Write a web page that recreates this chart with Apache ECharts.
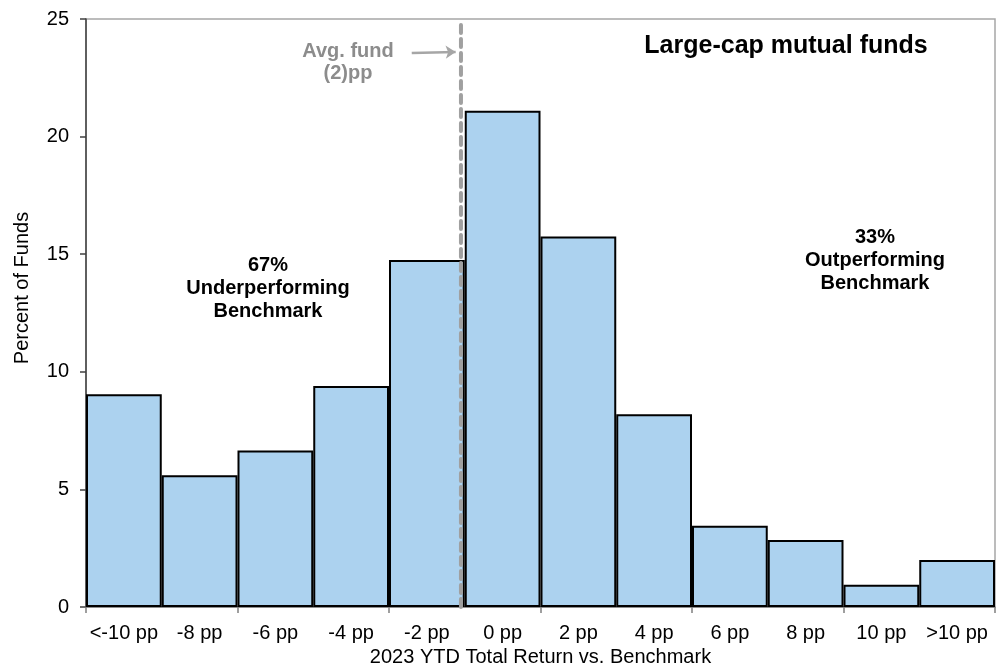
<!DOCTYPE html>
<html><head><meta charset="utf-8">
<script src="https://cdn.jsdelivr.net/npm/echarts@6/dist/echarts.min.js"></script>
<style>html,body{margin:0;padding:0;background:#fff}#c{width:997px;height:664px}</style>
</head><body><div id="c"></div>
<script>
const categories = ['<-10 pp','-8 pp','-6 pp','-4 pp','-2 pp','0 pp','2 pp','4 pp','6 pp','8 pp','10 pp','>10 pp'];
const percentOfFunds = [9.05, 5.6, 6.65, 9.4, 14.75, 21.1, 15.75, 8.2, 3.45, 2.85, 0.95, 2.0];
const avgFundPosition = 4.95; // in category-width units from left edge
const yTicks = [0, 5, 10, 15, 20, 25];

const F = '"Liberation Sans", Arial, sans-serif';
const chart = echarts.init(document.getElementById('c'));
chart.setOption({
  animation: false,
  textStyle: {fontFamily: F},
  grid: {left: 86, right: 2, top: 19, bottom: 57, show: true, borderColor: '#a6a6a6', borderWidth: 1.5,
         containLabel: false, outerBoundsMode: 'none'},
  xAxis: [{
    type: 'category', data: categories,
    axisLine: {lineStyle: {color: '#808080', width: 1.5}},
    axisTick: {show: true, interval: (i) => i % 2 === 0, length: 6, lineStyle: {color: '#808080', width: 1.5}},
    axisLabel: {color: '#000', fontSize: 20, margin: 16, interval: 0, fontFamily: F},
    name: '2023 YTD Total Return vs. Benchmark', nameLocation: 'middle', nameGap: 40,
    nameTextStyle: {color: '#000', fontSize: 20, fontFamily: F}
  }, {
    type: 'value', min: 0, max: 12, show: false
  }],
  yAxis: {
    type: 'value', min: 0, max: 25, interval: 5,
    axisLine: {show: true, lineStyle: {color: '#404040', width: 1.5}},
    axisTick: {show: true, length: 6, lineStyle: {color: '#404040', width: 1.5}},
    splitLine: {show: false},
    axisLabel: {color: '#000', fontSize: 20, margin: 17, fontFamily: F,
      formatter: v => yTicks.includes(v) ? String(v) : ''}
  },
  graphic: [
    {type: 'text', x: 22, y: 288, rotation: Math.PI / 2, style: {text: 'Percent of Funds', fill: '#000', font: '20px ' + F, textAlign: 'center', textVerticalAlign: 'middle'}},
    {type: 'text', x: 348, y: 62, style: {text: 'Avg. fund\n(2)pp', fill: '#8c8c8c', font: 'bold 20px ' + F, textAlign: 'center', textVerticalAlign: 'middle', lineHeight: 22}},
    {type: 'text', x: 786, y: 46, style: {text: 'Large-cap mutual funds', fill: '#000', font: 'bold 25px ' + F, textAlign: 'center', textVerticalAlign: 'middle'}},
    {type: 'text', x: 268, y: 288, style: {text: '67%\nUnderperforming\nBenchmark', fill: '#000', font: 'bold 20px ' + F, textAlign: 'center', textVerticalAlign: 'middle', lineHeight: 23}},
    {type: 'text', x: 875, y: 260, style: {text: '33%\nOutperforming\nBenchmark', fill: '#000', font: 'bold 20px ' + F, textAlign: 'center', textVerticalAlign: 'middle', lineHeight: 23}}
  ],
  series: [{
    type: 'bar', data: percentOfFunds, barCategoryGap: 0, barGap: 0,
    itemStyle: {color: '#acd2ef', borderColor: '#000', borderWidth: 2}
  }, {
    type: 'line', xAxisIndex: 1, yAxisIndex: 0,
    data: [[avgFundPosition, 0], [avgFundPosition, 25]],
    symbol: 'none', z: 5,
    lineStyle: {color: '#a0a0a0', width: 4, type: [8, 6], cap: 'round'},
    markLine: {
      silent: true, symbol: ['none', 'arrow'], symbolSize: 10,
      lineStyle: {color: '#a6a6a6', width: 2.5, type: 'solid'},
      label: {show: false},
      data: [[{coord: [4.3, 23.55]}, {coord: [4.88, 23.6]}]]
    }
  }]
});
</script></body></html>
